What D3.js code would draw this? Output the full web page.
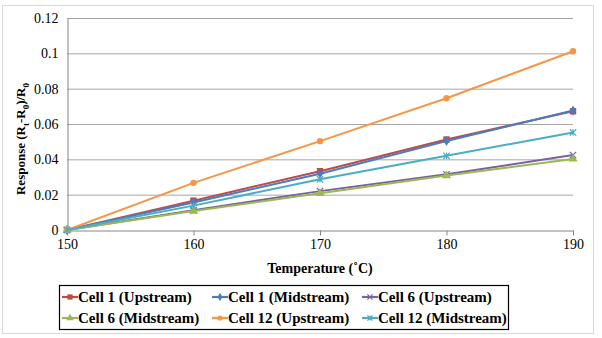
<!DOCTYPE html>
<html>
<head>
<meta charset="utf-8">
<script src="https://cdn.jsdelivr.net/npm/d3@7"></script>
<style>
  body { margin: 0; background: #fff; }
  text { font-family: "Liberation Serif", "DejaVu Serif", serif; fill: #000; }
</style>
</head>
<body>
<div class="chart"></div>
<script>
// Data
const temps = [150, 160, 170, 180, 190];
const yTicks = [0, 0.02, 0.04, 0.06, 0.08, 0.1, 0.12];
const seriesNames = ["Cell 1 (Upstream)", "Cell 1 (Midstream)", "Cell 6 (Upstream)",
                     "Cell 6 (Midstream)", "Cell 12 (Upstream)", "Cell 12 (Midstream)"];
const cell1Up = [0, 0.0166, 0.0333, 0.0512, 0.0672];
const cell1Mid = [0, 0.0156, 0.0318, 0.0504, 0.0676];
const cell6Up = [0, 0.0112, 0.0220, 0.0315, 0.0424];
const cell6Mid = [0, 0.0107, 0.0208, 0.0308, 0.0402];
const cell12Up = [0, 0.0267, 0.0503, 0.0746, 0.1012];
const cell12Mid = [0, 0.0138, 0.0287, 0.0420, 0.0552];
const colors = ["#BE4B48", "#4A7EBB", "#7D60A0", "#98B954", "#F79646", "#4BACC6"];
const markers = ["square", "diamond", "cross", "triangle", "circle", "star"];

const series = [cell1Up, cell1Mid, cell6Up, cell6Mid, cell12Up, cell12Mid]
  .map((vals, i) => ({name: seriesNames[i], color: colors[i], marker: markers[i], values: vals}));

// SVG and margin
const W = 602, H = 338;
const margin = ({top: 18, right: 29, bottom: 108, left: 67});
const width = W - margin.left - margin.right,
    height = H - margin.top - margin.bottom;

const root = d3.select(".chart").append("svg")
    .attr("width", W)
    .attr("height", H);

// outer chart border
root.append("rect")
    .attr("x", 2.5).attr("y", 5.5)
    .attr("width", 591).attr("height", 328)
    .attr("fill", "none").attr("stroke", "#d9d9d9");

const svg = root.append("g")
    .attr("transform", "translate(" + margin.left + "," + margin.top + ")");

// Scaling
const xScale = d3.scaleLinear().domain([150, 190]).range([0, width]);
const yScale = d3.scaleLinear().domain([0, 0.12]).range([height, 0]);

// gridlines
svg.append("g")
  .selectAll("line")
  .data(yTicks.slice(1))
  .join("line")
    .attr("x1", 0).attr("x2", width)
    .attr("y1", d => yScale(d) + 0.5).attr("y2", d => yScale(d) + 0.5)
    .attr("stroke", "#a6a6a6");

// Axis
const xAxis = d3.axisBottom(xScale).tickValues(temps).tickSize(5).tickSizeOuter(0).tickPadding(4);
const yAxis = d3.axisLeft(yScale).tickValues(yTicks).tickSize(0).tickPadding(9)
    .tickFormat(d => d3.format("")(+d.toFixed(2)));

svg.append("g")
  .attr("class", "axis x-axis")
  .attr("transform", "translate(0," + (height + 0.5) + ")")
  .call(xAxis);
svg.append("g")
  .attr("class", "axis y-axis")
  .attr("transform", "translate(0.5,0)")
  .call(yAxis);

svg.selectAll(".axis").attr("font-family", null);
svg.selectAll(".axis path, .axis line").attr("stroke", "#868686");
svg.selectAll(".axis text").attr("font-size", 14);

// Axis titles
svg.append("text")
    .attr("x", width / 2)
    .attr("y", height + 43)
    .attr("text-anchor", "middle")
    .attr("font-size", 14)
    .attr("font-weight", "bold")
    .text("Temperature (˚C)");

const yt = svg.append("text")
    .attr("transform", "translate(" + (-42) + "," + (height / 2 + 15) + ") rotate(-90)")
    .attr("text-anchor", "middle")
    .attr("font-size", 13)
    .attr("font-weight", "bold");
yt.append("tspan").text("Response (R");
yt.append("tspan").attr("font-size", 9).attr("dy", 4).text("t");
yt.append("tspan").attr("dy", -4).text("-R");
yt.append("tspan").attr("font-size", 9).attr("dy", 4).text("0");
yt.append("tspan").attr("dy", -4).text(")/R");
yt.append("tspan").attr("font-size", 9).attr("dy", 4).text("0");

// markers
function drawMarker(g, type, color, s) {
  if (type === "square") {
    g.append("rect").attr("x", -s).attr("y", -s).attr("width", 2 * s).attr("height", 2 * s).attr("fill", color);
  } else if (type === "diamond") {
    g.append("path").attr("d", d3.symbol(d3.symbolDiamond, s * s * 3)()).attr("fill", color);
  } else if (type === "triangle") {
    g.append("path").attr("d", d3.symbol(d3.symbolTriangle, s * s * 3.5)()).attr("fill", color);
  } else if (type === "circle") {
    g.append("circle").attr("r", s).attr("fill", color);
  } else if (type === "cross") {
    g.append("path").attr("d", `M${-s},${-s}L${s},${s}M${-s},${s}L${s},${-s}`)
      .attr("stroke", color).attr("stroke-width", 1.2);
  } else if (type === "star") {
    g.append("path").attr("d", `M${-s},${-s}L${s},${s}M${-s},${s}L${s},${-s}M0,${-s}L0,${s}`)
      .attr("stroke", color).attr("stroke-width", 1.2);
  }
}

const line = d3.line()
    .x((d, i) => xScale(temps[i]))
    .y(d => yScale(d));

const sg = svg.selectAll(".series")
  .data(series)
  .join("g")
    .attr("class", "series");

sg.append("path")
    .attr("d", d => line(d.values))
    .attr("fill", "none")
    .attr("stroke", d => d.color)
    .attr("stroke-width", 2);

sg.each(function(d) {
  const g = d3.select(this);
  d.values.forEach((v, i) => {
    const m = g.append("g").attr("transform", "translate(" + xScale(temps[i]) + "," + yScale(v) + ")");
    drawMarker(m, d.marker, d.color, 3.2);
  });
});

// Legend
const legend = root.append("g").attr("transform", "translate(59,285)");
legend.append("rect")
    .attr("x", 0.5).attr("y", 0.5)
    .attr("width", 449).attr("height", 44)
    .attr("fill", "#fff").attr("stroke", "#000").attr("stroke-width", 1.2);

const colX = [3, 153, 303];
series.forEach((d, i) => {
  const g = legend.append("g")
    .attr("transform", "translate(" + colX[i % 3] + "," + (i < 3 ? 12 : 33) + ")");
  g.append("line").attr("x1", 0).attr("x2", 16).attr("y1", 0).attr("y2", 0)
    .attr("stroke", d.color).attr("stroke-width", 2.2);
  const m = g.append("g").attr("transform", "translate(8,0)");
  drawMarker(m, d.marker, d.color, 2.6);
  g.append("text")
    .attr("x", 16).attr("y", 5)
    .attr("font-size", 15).attr("font-weight", "bold")
    .text(d.name);
});
</script>
</body>
</html>
